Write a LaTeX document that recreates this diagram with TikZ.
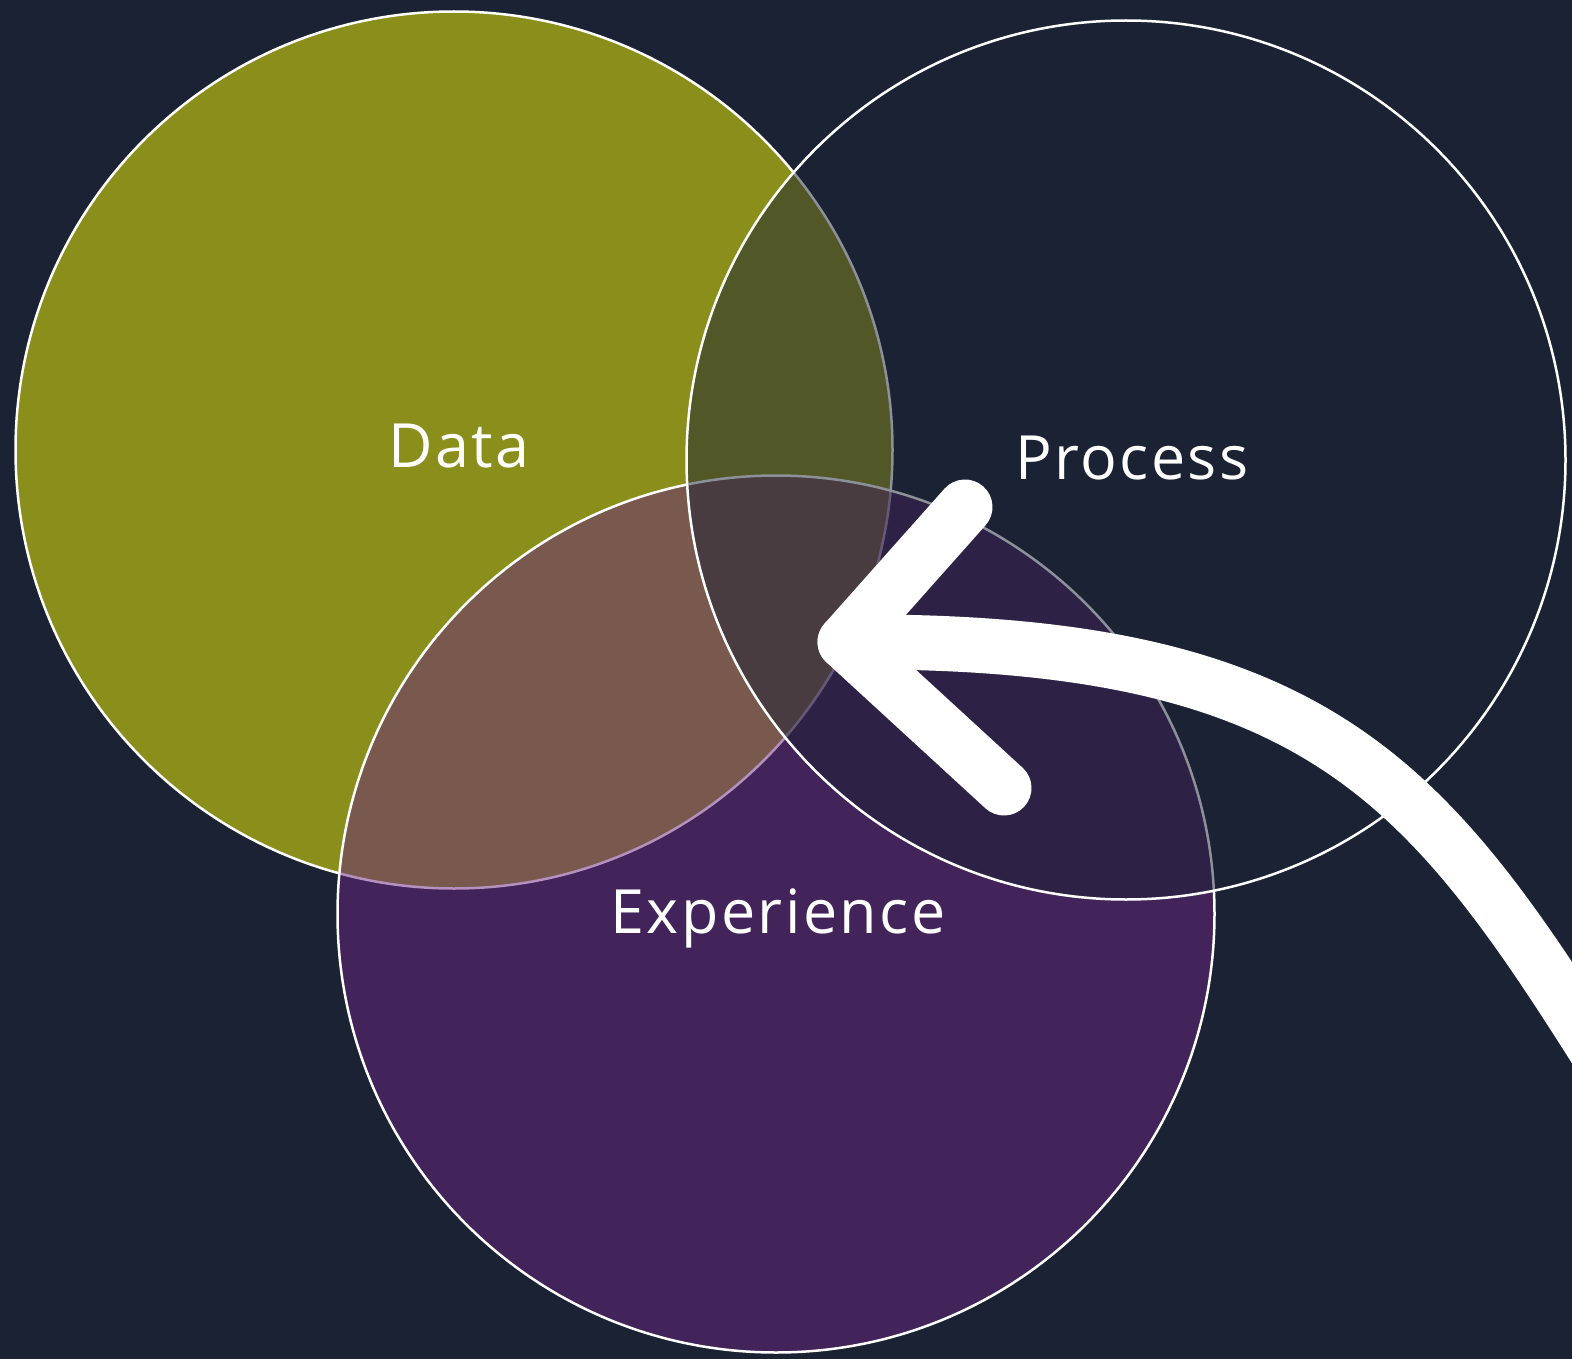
\documentclass[tikz,border=0pt]{standalone}
\usepackage{fontspec}
\setmainfont{Open Sans}[LetterSpace=4]
\definecolor{bgnavy}{RGB}{26,34,51}
\definecolor{olive}{RGB}{138,142,27}
\definecolor{purp}{RGB}{106,36,129}
\tikzset{
  ring/.style={draw=white, line width=2.5pt},
  lbl/.style={text=white, anchor=base, inner sep=0pt, font=\fontsize{61}{70}\selectfont},
  arrowline/.style={draw=white, line width=55pt, line cap=round, line join=round},
}
\begin{document}
\begin{tikzpicture}[x=1pt,y=-1pt]
\fill[bgnavy] (0,0) rectangle (1572,1359);
\useasboundingbox (0,0) rectangle (1572,1359);
% circles
\coordinate (cdata) at (454,450);
\coordinate (cexp) at (776,914);
\coordinate (cproc) at (1126,460);
\draw[ring, fill=olive] (cdata) circle[radius=438.5];
\draw[ring, fill=purp, fill opacity=0.5] (cexp) circle[radius=438.5];
\draw[ring, fill=bgnavy, fill opacity=0.5] (cproc) circle[radius=439.5];
% labels
\node[lbl] (tdata) at (459,467) {Data};
\node[lbl] (tproc) at (1132,479) {Process};
\node[lbl] (texp) at (778,933) {Experience};
% arrow
\coordinate (tip) at (845,642);
\coordinate (armA) at (965,507);
\coordinate (armB) at (1004,788);
\coordinate (tail) at (1640,1120);
\draw[arrowline] (tip) .. controls (1345,638) and (1438,797) .. (tail);
\draw[arrowline] (armA) -- (tip) -- (armB);
\end{tikzpicture}
\end{document}
